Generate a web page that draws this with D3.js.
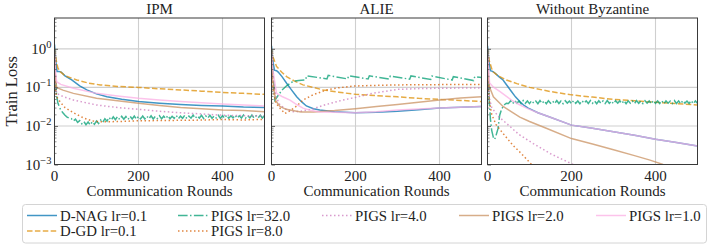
<!DOCTYPE html>
<html>
<head>
<meta charset="utf-8">
<script src="https://cdn.jsdelivr.net/npm/d3@7"></script>
<style>
  body { margin: 0; background: #fff; }
</style>
</head>
<body>
<div id="plot"></div>
<script>
// ---- data (rounds, train loss) ----
const panelTitles = ["IPM", "ALIE", "Without Byzantine"];
const seriesNames = ["D-NAG lr=0.1", "D-GD lr=0.1", "PIGS lr=32.0", "PIGS lr=8.0", "PIGS lr=4.0", "PIGS lr=2.0", "PIGS lr=1.0"];
const xTicks = [0, 200, 400];
const yTicks = [1, 0.1, 0.01, 0.001];
const yTickExp = ["0", "\u22121", "\u22122", "\u22123"];

// IPM
const ipmNag = [[0,1.3],[3,0.5],[6,0.26],[10,0.26],[16,0.25],[25,0.2],[41,0.156],[60,0.11],[77,0.086],[100,0.068],[125,0.057],[160,0.049],[200,0.043],[250,0.039],[300,0.036],[350,0.034],[400,0.033],[450,0.031],[500,0.030]];
const ipmGd = [[0,1.0],[4,0.5],[8,0.32],[13,0.26],[25,0.2],[53,0.156],[80,0.13],[109,0.116],[150,0.106],[200,0.1],[250,0.092],[300,0.086],[350,0.08],[400,0.074],[450,0.07],[500,0.066]];
const ipmP32Head = [[0,1.0],[2,0.2],[5,0.06],[8,0.04],[12,0.03],[16,0.025],[20,0.022],[25,0.019],[30,0.017],[35,0.016]];
const ipmP32Tail = [0.0155,0.0135,0.0150,0.0124,0.0138,0.0114,0.0130,0.0108,0.0126,0.0107,0.0128,0.0110,0.0134,0.0116,0.0143,0.0124,0.0154,0.0133,0.0166,0.0142,0.0172,0.0146,0.0175,0.0148,0.0177,0.0150,0.0176,0.0147,0.0178,0.0151,0.0180,0.0150,0.0176,
  0.0153,0.0181,0.0151,0.0178,0.0154,0.0183,0.0152,0.0177,0.0155,0.0184,
  0.0153,0.0179,0.0156,0.0185,0.0154,0.0178,0.0157,0.0187,0.0155,0.0180,
  0.0158,0.0189,0.0156,0.0181,0.0159,0.0191,0.0158,0.0182,0.0160,0.0188,
  0.0157,0.0183,0.0159,0.0190,0.0158,0.0182,0.0161,0.0189,0.0159,0.0184,
  0.0160,0.0191,0.0159,0.0183,0.0162,0.0190,0.0160,0.0184,0.0161,0.0192,
  0.0160,0.0185,0.0162,0.0191,0.0161,0.0184,0.0163,0.0190,0.0161,0.0185];
const ipmP8 = [[0,0.6],[2,0.1],[5,0.057],[15,0.04],[25,0.03],[45,0.022],[70,0.016],[90,0.0135],[109,0.0128],[150,0.013],[200,0.0136],[250,0.0138],[300,0.014],[350,0.0142],[400,0.0147],[450,0.0143],[500,0.0148]];
const ipmP4 = [[0,0.7],[2,0.15],[5,0.07],[20,0.058],[45,0.047],[100,0.035],[150,0.03],[200,0.027],[250,0.024],[300,0.022],[350,0.0205],[400,0.019],[450,0.0185],[500,0.018]];
const ipmP2 = [[0,0.8],[2,0.2],[5,0.1],[20,0.085],[45,0.07],[100,0.052],[150,0.045],[200,0.039],[250,0.034],[300,0.030],[350,0.028],[400,0.026],[450,0.025],[500,0.0235]];
const ipmP1 = [[0,1.0],[2,0.3],[5,0.14],[15,0.12],[45,0.095],[100,0.07],[150,0.06],[200,0.052],[250,0.047],[300,0.043],[350,0.04],[400,0.037],[450,0.035],[500,0.033]];

// ALIE
const alieNag = [[0,1.2],[3,0.5],[7,0.28],[12,0.27],[16,0.25],[25,0.19],[36,0.128],[48,0.085],[60,0.057],[72,0.042],[83,0.033],[100,0.028],[115,0.026],[150,0.0235],[200,0.022],[250,0.0225],[300,0.024],[350,0.0265],[400,0.029],[450,0.0305],[500,0.032]];
const alieGd = [[0,1.0],[4,0.6],[12,0.35],[24,0.25],[36,0.19],[55,0.145],[75,0.116],[100,0.1],[123,0.086],[160,0.075],[200,0.066],[250,0.061],[300,0.057],[350,0.052],[400,0.049],[450,0.046],[500,0.043]];
const alieP32 = [[0,1.0],[3,0.3],[8,0.047],[15,0.06],[25,0.085],[36,0.11],[52,0.145],[65,0.152],[81,0.156],[84,0.2],[132,0.166],[135,0.205],[181,0.166],[184,0.2],[230,0.165],[233,0.2],[280,0.164],[283,0.198],[329,0.163],[332,0.198],[379,0.16],[382,0.196],[430,0.155],[433,0.19],[481,0.15],[484,0.19],[500,0.18]];
const alieP8 = [[0,0.6],[3,0.1],[10,0.04],[20,0.029],[32,0.021],[45,0.025],[60,0.033],[75,0.047],[100,0.065],[131,0.086],[160,0.098],[200,0.109],[250,0.113],[300,0.116],[400,0.118],[500,0.119]];
const alieP4 = [[0,0.8],[3,0.2],[10,0.06],[20,0.035],[35,0.027],[52,0.0235],[70,0.024],[100,0.028],[130,0.036],[170,0.047],[200,0.055],[240,0.07],[300,0.089],[350,0.093],[400,0.095],[450,0.096],[500,0.097]];
const alieP2 = [[0,0.8],[3,0.15],[10,0.045],[20,0.032],[35,0.027],[50,0.025],[70,0.023],[100,0.023],[150,0.025],[200,0.028],[250,0.032],[300,0.036],[350,0.041],[400,0.047],[450,0.053],[500,0.057]];
const alieP1 = [[0,1.0],[3,0.3],[12,0.07],[25,0.058],[44,0.047],[60,0.036],[75,0.029],[95,0.025],[115,0.023],[150,0.0225],[200,0.022],[250,0.0235],[300,0.026],[350,0.0275],[400,0.029],[450,0.0305],[500,0.032]];

// Without Byzantine
const wbNag = [[0,1.2],[3,0.5],[7,0.27],[12,0.26],[17,0.24],[27,0.19],[37,0.156],[47,0.11],[57,0.078],[67,0.056],[77,0.043],[87,0.034],[97,0.029],[120,0.022],[148,0.017],[200,0.0105],[250,0.0087],[300,0.0071],[350,0.0057],[400,0.0045],[450,0.0037],[500,0.0030]];
const wbGd = [[0,1.0],[4,0.5],[12,0.26],[25,0.2],[45,0.156],[70,0.125],[100,0.1],[150,0.078],[200,0.064],[250,0.056],[300,0.049],[350,0.045],[400,0.041],[450,0.038],[500,0.035]];
const wbP32Head = [[0,1.0],[2,0.3],[4,0.047],[7,0.015],[10,0.0077],[14,0.005],[17,0.0045],[20,0.0055],[25,0.0085],[29,0.019],[33,0.026],[37,0.032],[41,0.036],[45,0.039]];
const wbP32Tail = [0.0385,0.0448,0.0378,0.0452,0.0390,0.0440,0.0376,0.0455,0.0388,0.0445,
  0.0380,0.0450,0.0392,0.0442,0.0377,0.0454,0.0386,0.0447,0.0379,0.0451,
  0.0389,0.0441,0.0381,0.0456,0.0384,0.0446,0.0378,0.0449,0.0391,0.0443,
  0.0379,0.0453,0.0387,0.0444,0.0376,0.0450,0.0390,0.0448,0.0382,0.0455,
  0.0385,0.0442,0.0377,0.0451,0.0389,0.0446,0.0380,0.0454,0.0386,0.0440,
  0.0378,0.0449,0.0391,0.0445,0.0383,0.0452,0.0376,0.0447,0.0388,0.0443,
  0.0381,0.0455,0.0385,0.0441,0.0379,0.0450,0.0390,0.0446,0.0377,0.0453,
  0.0387,0.0444,0.0382,0.0451,0.0376,0.0448,0.0389,0.0442,0.0380,0.0454,
  0.0384,0.0447,0.0378,0.0450,0.0391,0.0443,0.0383,0.0452,0.0379,0.0446,0.0386];
const wbP8 = [[0,0.6],[2,0.1],[5,0.04],[10,0.02],[20,0.011],[37,0.0064],[60,0.0032],[81,0.0019],[105,0.001],[130,0.0006]];
const wbP4 = [[0,0.7],[2,0.15],[5,0.05],[10,0.03],[25,0.018],[45,0.0117],[75,0.006],[109,0.0035],[150,0.0019],[204,0.001],[250,0.0006]];
const wbP2 = [[0,0.8],[2,0.2],[5,0.1],[14,0.057],[37,0.032],[77,0.017],[100,0.013],[140,0.0087],[200,0.0047],[250,0.0034],[300,0.0024],[350,0.0017],[387,0.0013],[418,0.001],[450,0.0008],[500,0.0006]];
const wbP1 = [[0,1.0],[2,0.35],[5,0.13],[15,0.1],[30,0.078],[57,0.047],[75,0.036],[93,0.029],[120,0.022],[148,0.017],[200,0.0105],[250,0.0087],[300,0.0071],[350,0.0057],[400,0.0045],[450,0.0037],[500,0.0030]];

// noisy tails sit on a 5-round grid
function withGrid(head, tail, start) {
  return head.concat(tail.map((v, i) => [start + 5 * i, v]).filter(d => d[0] <= 500));
}
const ipmP32 = withGrid(ipmP32Head, ipmP32Tail, 40);
const wbP32 = withGrid(wbP32Head, wbP32Tail, 50);

const panelData = [
  [ipmNag, ipmGd, ipmP32, ipmP8, ipmP4, ipmP2, ipmP1],
  [alieNag, alieGd, alieP32, alieP8, alieP4, alieP2, alieP1],
  [wbNag, wbGd, wbP32, wbP8, wbP4, wbP2, wbP1]
];

const colors = ["#0173b2", "#de8f05", "#029e73", "#d55e00", "#cc78bc", "#ca9161", "#fbafe4"];
const dashes = [null, "5.5,2.4", "9.6,2.4,1.5,2.4", "1.5,2.5", "1.5,2.5", null, null];

// ---- layout ----
const width = 714, height = 249;
const plotTop = 18, plotBottom = 164.5, panelW = 210;
const panelLeft = [54.5, 271.5, 487.5];
const serif = "'Liberation Serif', 'DejaVu Serif', 'Times New Roman', serif";

const svg = d3.select("#plot").append("svg")
  .attr("width", width).attr("height", height)
  .attr("font-family", serif);

const x = d3.scaleLinear().domain([0, 500]).range([0, panelW]);
const y = d3.scaleLog().domain([1e-3, Math.pow(10, 0.8)]).range([plotBottom - plotTop, 0]);
const ph = plotBottom - plotTop;

const line = d3.line().x(d => x(d[0])).y(d => y(Math.max(d[1], 1e-4)));

const minor = [];
[1e-3, 1e-2, 1e-1, 1].forEach(b => { for (let k = 2; k <= 9; k++) if (b * k <= Math.pow(10, 0.8)) minor.push(b * k); });

panelData.forEach((series, p) => {
  const g = svg.append("g").attr("transform", `translate(${panelLeft[p]},${plotTop})`);

  g.append("clipPath").attr("id", "clip" + p)
    .append("rect").attr("width", panelW).attr("height", ph);

  // grid
  g.append("g").selectAll("line").data(yTicks).join("line")
    .attr("x1", 0).attr("x2", panelW)
    .attr("y1", d => y(d)).attr("y2", d => y(d))
    .attr("stroke", "#cfcfcf").attr("stroke-width", 1.1);
  g.append("g").selectAll("line").data(xTicks).join("line")
    .attr("y1", 0).attr("y2", ph)
    .attr("x1", d => x(d)).attr("x2", d => x(d))
    .attr("stroke", "#cfcfcf").attr("stroke-width", 1.1);

  // curves
  g.append("g").attr("clip-path", `url(#clip${p})`)
    .selectAll("path").data(series).join("path")
    .attr("d", d => line(d))
    .attr("fill", "none")
    .attr("stroke", (d, i) => colors[i])
    .attr("stroke-opacity", 0.75)
    .attr("stroke-width", 1.5)
    .attr("stroke-dasharray", (d, i) => dashes[i]);

  // inward ticks on the left spine
  g.append("g")
    .call(d3.axisLeft(y).tickValues(minor).tickSize(-2).tickFormat(""))
    .call(a => a.select(".domain").remove())
    .selectAll("line").attr("stroke", "#444").attr("stroke-width", 0.6);
  g.append("g")
    .call(d3.axisLeft(y).tickValues(yTicks).tickSize(-3.5).tickFormat(""))
    .call(a => a.select(".domain").remove())
    .selectAll("line").attr("stroke", "#444").attr("stroke-width", 0.8);

  // frame
  g.append("rect").attr("width", panelW).attr("height", ph)
    .attr("fill", "none").attr("stroke", "#3a3a3a").attr("stroke-width", 1);

  // x tick labels
  g.append("g").selectAll("text").data(xTicks).join("text")
    .attr("x", d => x(d)).attr("y", ph + 16)
    .attr("text-anchor", "middle").attr("font-size", 15).attr("fill", "#222")
    .text(d => d);

  g.append("text")
    .attr("x", panelW / 2).attr("y", ph + 31)
    .attr("text-anchor", "middle").attr("font-size", 15).attr("fill", "#222")
    .text("Communication Rounds");

  g.append("text")
    .attr("x", panelW / 2).attr("y", -4)
    .attr("text-anchor", "middle").attr("font-size", 15).attr("fill", "#222")
    .text(panelTitles[p]);

  if (p === 0) {
    const lab = g.append("g").selectAll("text").data(yTicks).join("text")
      .attr("x", -3).attr("y", d => y(d) + 5)
      .attr("text-anchor", "end").attr("font-size", 15).attr("fill", "#222");
    lab.append("tspan").text("10");
    lab.append("tspan").attr("dy", -6).attr("font-size", 10.5).text((d, i) => yTickExp[i]);
  }
});

svg.append("text")
  .attr("transform", `translate(17,${(plotTop + plotBottom) / 2}) rotate(-90)`)
  .attr("text-anchor", "middle").attr("font-size", 16.5).attr("fill", "#222")
  .text("Train Loss");

// ---- legend ----
const legend = svg.append("g");
legend.append("rect")
  .attr("x", 22.5).attr("y", 204.5).attr("width", 684).attr("height", 38.5).attr("rx", 3)
  .attr("fill", "#fff").attr("stroke", "#d4d4d4").attr("stroke-width", 1);

const legendCols = [27, 178, 322, 459, 596];
const legendRows = [215.5, 231];
seriesNames.forEach((name, i) => {
  const col = i < 4 ? Math.floor(i / 2) : i - 2;
  const row = i < 4 ? i % 2 : 0;
  const lx = legendCols[col], ly = legendRows[row];
  legend.append("line")
    .attr("x1", lx).attr("x2", lx + 30).attr("y1", ly).attr("y2", ly)
    .attr("stroke", colors[i]).attr("stroke-opacity", 0.75).attr("stroke-width", 1.5)
    .attr("stroke-dasharray", dashes[i]);
  legend.append("text")
    .attr("x", lx + 33).attr("y", ly + 5)
    .attr("font-size", 14.8).attr("fill", "#222")
    .text(name);
});
</script>
</body>
</html>
